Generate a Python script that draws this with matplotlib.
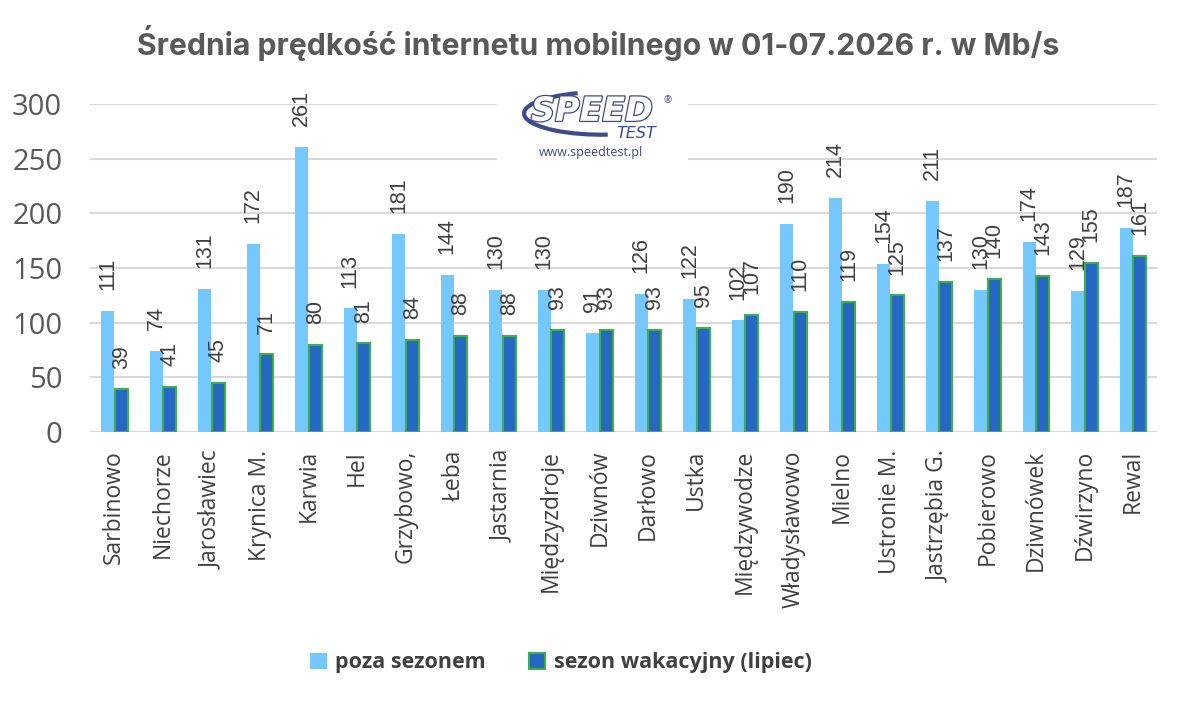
import matplotlib.pyplot as plt
import matplotlib.patches as mpatches
import matplotlib.patheffects as pe
import numpy as np

# dane z wykresu (Mb/s)
towns = ["Sarbinowo", "Niechorze", "Jarosławiec", "Krynica M.", "Karwia", "Hel",
         "Grzybowo,", "Łeba", "Jastarnia", "Międzyzdroje", "Dziwnów", "Darłowo",
         "Ustka", "Międzywodze", "Władysławowo", "Mielno", "Ustronie M.",
         "Jastrzębia G.", "Pobierowo", "Dziwnówek", "Dźwirzyno", "Rewal"]
off_season = [111, 74, 131, 172, 261, 113, 181, 144, 130, 130, 91, 126,
              122, 102, 190, 214, 154, 211, 130, 174, 129, 187]
july = [39, 41, 45, 71, 80, 81, 84, 88, 88, 93, 93, 93,
        95, 107, 110, 119, 125, 137, 140, 143, 155, 161]
yticks = [0, 50, 100, 150, 200, 250, 300]

light = "#75C8FD"
dark = "#2468C3"
edge = "#3DAE49"
grey = "#595959"

plt.rcParams['font.family'] = ['Open Sans', 'DejaVu Sans']

fig = plt.figure(figsize=(11.91, 7.09), dpi=100)
ax = fig.add_axes([0.0756, 0.3907, 0.8959, 0.4626])

x = np.arange(len(towns))
w = 0.27
b1 = ax.bar(x - 0.135, off_season, w, color=light, label="poza sezonem", zorder=3)
b2 = ax.bar(x + 0.145, july, w, color=dark, edgecolor=edge, linewidth=1.5,
            label="sezon wakacyjny (lipiec)", zorder=3)

for bars, vals in ((b1, off_season), (b2, july)):
    for r, v in zip(bars, vals):
        ax.annotate(str(v), (r.get_x() + r.get_width() / 2, v),
                    xytext=(0, 15), textcoords="offset points",
                    rotation=90, ha="center", va="bottom",
                    fontsize=15.5, color="#404040", family="Liberation Sans",
                    annotation_clip=False)

ax.set_xlim(-0.5, len(towns) - 0.5)
ax.set_ylim(0, 300)
ax.set_yticks(yticks)
ax.yaxis.grid(True, color="#D9D9D9", linewidth=1.5, zorder=0)
ax.set_axisbelow(True)
for s in ax.spines.values():
    s.set_visible(False)
ax.axhline(0, color="#D9D9D9", linewidth=1.5, zorder=2)
ax.tick_params(axis="y", length=0, pad=20, labelsize=21, labelcolor=grey)
ax.tick_params(axis="x", length=0, pad=13, labelsize=16.5, labelcolor="#404040")
ax.set_xticks(x)
ax.set_xticklabels(towns, rotation=90)

fig.text(0.502, 0.94, "Średnia prędkość internetu mobilnego w 01-07.2026 r. w Mb/s",
         ha="center", va="center", fontsize=21.7, fontweight="bold", color=grey,
         family="Inter")

# logo speedtest
fig.patches.append(mpatches.Rectangle((0.417, 0.765), 0.161, 0.105,
                                      transform=fig.transFigure,
                                      facecolor="white", edgecolor="none", zorder=5))
navy = "#3E4A8C"
t = fig.text(0.497, 0.843, "SPEED", ha="center", va="center", fontsize=24,
             style="italic", color="white", family="DejaVu Sans", fontweight="bold",
             zorder=6)
t.set_path_effects([pe.withStroke(linewidth=1.8, foreground=navy)])
fig.text(0.551, 0.812, "TEST", ha="right", va="center", fontsize=11.5,
         style="italic", color=navy, family="DejaVu Sans", zorder=6)
fig.text(0.557, 0.858, "®", ha="left", va="center", fontsize=7, color=navy, zorder=6)
fig.patches.append(mpatches.Arc((0.505, 0.84), 0.13, 0.06,
                                theta1=125, theta2=280, transform=fig.transFigure,
                                color=navy, linewidth=3, zorder=6))
fig.text(0.496, 0.785, "www.speedtest.pl", ha="center", va="center", fontsize=9,
         color=navy, zorder=6)

fig.legend(handles=[b1, b2], loc="center", bbox_to_anchor=(0.471, 0.065), ncol=2,
           frameon=False, handlelength=0.75, handleheight=0.75,
           columnspacing=2.0, handletextpad=0.4,
           prop={"weight": "bold", "size": 15.5})
for txt in fig.legends[0].get_texts():
    txt.set_color("#404040")

fig.savefig("out.png", dpi=100)
